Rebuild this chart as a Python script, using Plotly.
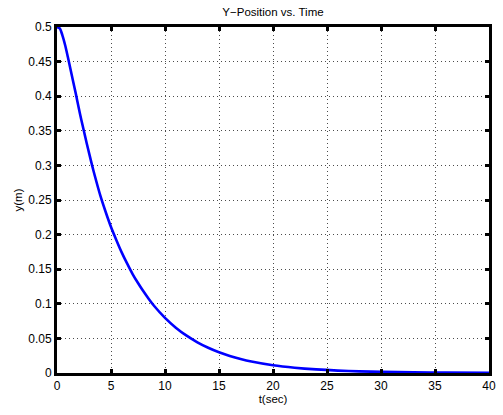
import plotly.graph_objects as go

t_sec = [0, 0.25, 0.5, 0.75, 1, 1.25, 1.5, 1.75, 2, 2.25, 2.5, 2.75, 3, 3.25, 3.5, 4, 4.5, 5,
         5.5, 6, 6.5, 7, 7.5, 8, 8.5, 9, 10, 11, 12, 13, 14, 15, 16, 17, 18, 20, 22, 24, 26,
         28, 30, 33, 36, 40]
y_pos = [0.5, 0.498, 0.488, 0.474, 0.457, 0.439, 0.421, 0.403, 0.384, 0.366, 0.349, 0.332,
         0.316, 0.300, 0.285, 0.257, 0.233, 0.211, 0.192, 0.174, 0.158, 0.143, 0.130, 0.118,
         0.107, 0.0968, 0.0797, 0.0655, 0.0539, 0.0444, 0.0365, 0.0300, 0.0247, 0.0203,
         0.0167, 0.0113, 0.0077, 0.0052, 0.0035, 0.0024, 0.0016, 0.0009, 0.0005, 0.0002]

x_ticks = [0, 5, 10, 15, 20, 25, 30, 35, 40]
y_ticks = [0, 0.05, 0.1, 0.15, 0.2, 0.25, 0.3, 0.35, 0.4, 0.45, 0.5]
y_tick_text = ["0", "0.05", "0.1", "0.15", "0.2", "0.25", "0.3", "0.35", "0.4", "0.45", "0.5"]

fig = go.Figure()
fig.add_trace(go.Scatter(x=t_sec, y=y_pos, mode="lines",
                         line=dict(color="#0000FF", width=2.6, shape="spline", smoothing=0.8),
                         showlegend=False, hoverinfo="skip"))

font = dict(family="Liberation Sans, Arial, Helvetica, sans-serif", size=12, color="black")
axis_common = dict(showline=True, linecolor="black", linewidth=2.8, mirror="ticks",
                   ticks="inside", ticklen=4, tickwidth=2.8, tickcolor="black",
                   showgrid=True, gridcolor="rgba(0,0,0,0.7)", griddash="1px,3px", gridwidth=1,
                   zeroline=False, tickfont=font)

fig.update_layout(
    width=503, height=415,
    margin=dict(l=57, r=7, t=27, b=42),
    paper_bgcolor="white", plot_bgcolor="white",
    font=font,
    title=dict(text="Y\u2212Position vs. Time", x=0.5, xanchor="center",
               xref="paper", y=1 - 12 / 415, yanchor="middle",
               font=dict(size=11.5, color="black")),
    xaxis=dict(range=[0, 40], tickvals=x_ticks, ticktext=[str(v) for v in x_ticks],
               title=dict(text="t(sec)", standoff=2, font=dict(size=11.5)), **axis_common),
    yaxis=dict(range=[0, 0.5], tickvals=y_ticks, ticktext=y_tick_text,
               title=dict(text="y(m)", standoff=4, font=dict(size=11.5)), **axis_common),
)

# remove the browser's default body margin so the figure sits at the window's corner
fig.write_html("out.html", config={"displayModeBar": False},
               post_script="document.body.style.margin='0';document.body.style.overflow='hidden';")
